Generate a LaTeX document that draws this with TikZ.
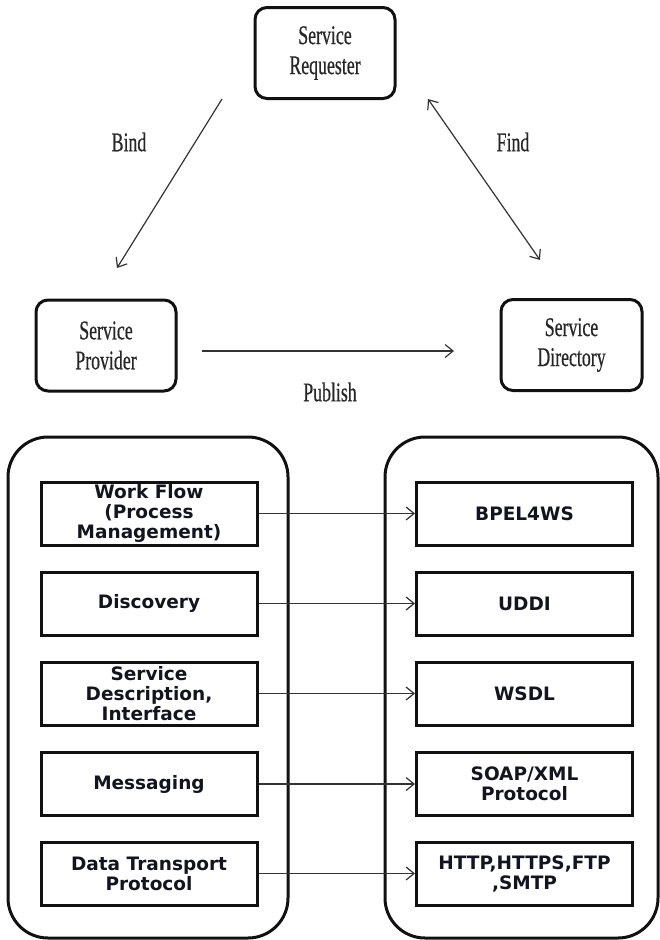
\documentclass[tikz,border=0pt]{standalone}
\usepackage{fontspec}
\usetikzlibrary{arrows.meta}
\newfontfamily\roleserif[FakeStretch=0.66,FakeBold=0.5]{Liberation Serif}
\newfontfamily\stacksans{DejaVu Sans}
\definecolor{ink}{HTML}{111111}
\definecolor{wire}{HTML}{333333}
\definecolor{labelink}{HTML}{141420}
\begin{document}
\begin{tikzpicture}[x=1pt,y=-1pt,
  role/.style={draw=ink,line width=3pt,rounded corners=12pt,
    minimum width=140pt,minimum height=91pt,align=center,inner sep=0pt,
    font=\roleserif\fontsize{27}{30}\selectfont,text=black!85},
  rolelabel/.style={font=\roleserif\fontsize{27}{30}\selectfont,text=black!85,inner sep=0pt},
  stack/.style={draw=ink,line width=3pt,rounded corners=40pt},
  layer/.style={draw=ink,line width=3pt,minimum width=216pt,minimum height=63pt,
    align=center,inner sep=0pt,text=labelink,
    font=\stacksans\bfseries\fontsize{18.5}{20}\selectfont},
  link/.style={draw=wire,line width=1.2pt,-{Straight Barb[length=8pt,width=13pt]}},
  duplex/.style={draw=wire,line width=1.2pt,{Straight Barb[length=8pt,width=13pt]}-{Straight Barb[length=8pt,width=13pt]}}
]
\useasboundingbox (0,0) rectangle (660,940);

% SOA triangle
\node[role] (req) at (325,53) {Service\\Requester};
\node[role] (prov) at (106,345.5) {Service\\Provider};
\node[role,minimum width=141pt] (dir) at (571.5,345) {Service\\Directory};

\coordinate (bindA) at (222,99);
\coordinate (bindB) at (117,268);
\coordinate (findA) at (428,99);
\coordinate (findB) at (540,260);
\coordinate (pubA) at (202,351);
\coordinate (pubB) at (454,351);

\draw[link] (bindA) -- (bindB);
\draw[duplex] (findA) -- (findB);
\draw[link] (pubA) -- (pubB);

\node[rolelabel] (bind) at (129,142) {Bind};
\node[rolelabel] (find) at (513,142) {Find};
\node[rolelabel] (pub) at (330,392) {Publish};

% protocol stack containers
\draw[stack] (8,437) rectangle (288,938);
\draw[stack] (385,437) rectangle (658,938);

% layers
\node[layer] (l1) at (149,513.5) {Work Flow\\(Process\\Management)};
\node[layer] (l2) at (149,603.5) {Discovery};
\node[layer] (l3) at (149,693.5) {Service\\Description,\\Interface};
\node[layer] (l4) at (149,784) {Messaging};
\node[layer] (l5) at (149,873.5) {Data Transport\\Protocol};

\node[layer] (r1) at (524.5,513.5) {BPEL4WS};
\node[layer] (r2) at (524.5,603.5) {UDDI};
\node[layer] (r3) at (524.5,693.5) {WSDL};
\node[layer] (r4) at (524.5,784) {SOAP/XML\\Protocol};
\node[layer] (r5) at (524.5,873.5) {HTTP,HTTPS,FTP\\,SMTP};

\foreach \i in {1,...,5}{\draw[link] (l\i.east) -- (r\i.west);}
\end{tikzpicture}
\end{document}
